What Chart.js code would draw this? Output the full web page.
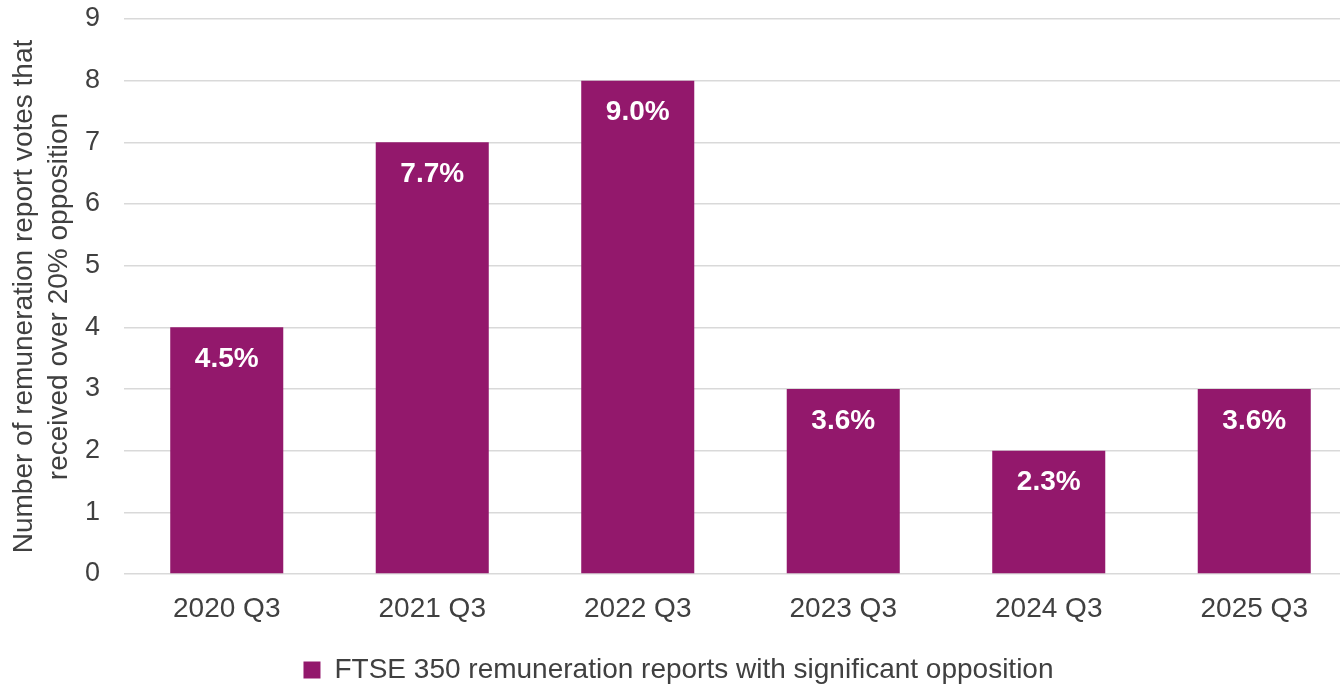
<!DOCTYPE html>
<html>
<head>
<meta charset="utf-8">
<script src="https://cdn.jsdelivr.net/npm/chart.js@4"></script>
<style>
  html, body { margin: 0; padding: 0; background: #fff; overflow: hidden; }
  #wrap { width: 1370px; height: 684px; overflow: hidden; }
</style>
</head>
<body>
<div id="wrap"><canvas id="chart" width="1370" height="694"></canvas></div>
<script>
const categories = ['2020 Q3', '2021 Q3', '2022 Q3', '2023 Q3', '2024 Q3', '2025 Q3'];
const reportCounts = [4, 7, 8, 3, 2, 3];
const oppositionShares = ['4.5%', '7.7%', '9.0%', '3.6%', '2.3%', '3.6%'];
const seriesName = 'FTSE 350 remuneration reports with significant opposition';
const yTitle = ['Number of remuneration report votes that', 'received over 20% opposition'];
const yMin = 0, yMax = 9, yStep = 1;

const PLUM = '#93186c';
const TEXT = '#404040';
const GRID = '#d9d9d9';
const FONT = "'Liberation Sans', Arial, sans-serif";

// white percentage labels just inside the top of each bar
const barLabels = {
    id: 'barLabels',
    afterDatasetsDraw(chart) {
        const { ctx } = chart;
        const meta = chart.getDatasetMeta(0);
        ctx.save();
        ctx.fillStyle = '#fff';
        ctx.font = `bold 28px ${FONT}`;
        ctx.textAlign = 'center';
        ctx.textBaseline = 'middle';
        meta.data.forEach((bar, i) => {
            ctx.fillText(oppositionShares[i], bar.x, bar.y + 32);
        });
        ctx.restore();
    },
};

new Chart(document.getElementById('chart'), {
    type: 'bar',
    data: {
        labels: categories,
        datasets: [{
            label: seriesName,
            data: reportCounts,
            backgroundColor: PLUM,
            borderWidth: 0,
            categoryPercentage: 1,
            barPercentage: 0.55,
        }],
    },
    options: {
        responsive: false,
        animation: false,
        layout: { padding: { top: 19, right: 13, bottom: 0, left: 0 } },
        plugins: {
            tooltip: { enabled: false },
            legend: {
                position: 'bottom',
                labels: {
                    color: TEXT,
                    font: { family: FONT, size: 28 },
                    boxWidth: 17,
                    boxHeight: 17,
                    padding: 8,
                },
            },
        },
        scales: {
            x: {
                grid: { display: false, drawTicks: false },
                border: { display: false },
                ticks: { color: TEXT, font: { family: FONT, size: 28 }, padding: 18, maxRotation: 0 },
                afterFit(scale) { scale.height = 74; },
            },
            y: {
                min: yMin,
                max: yMax,
                ticks: { stepSize: yStep, color: TEXT, font: { family: FONT, size: 27 }, padding: 24 },
                grid: { color: GRID, lineWidth: 1.5, drawTicks: false },
                border: { display: false },
                title: {
                    display: true,
                    text: yTitle,
                    color: TEXT,
                    font: { family: FONT, size: 28, lineHeight: 1.25 },
                    padding: { top: 7, bottom: 0 },
                },
                afterFit(scale) {
                    scale.width = 124;
                    scale.paddingTop = 0;
                    scale.paddingBottom = 0;
                },
            },
        },
    },
    plugins: [barLabels],
});
</script>
</body>
</html>
